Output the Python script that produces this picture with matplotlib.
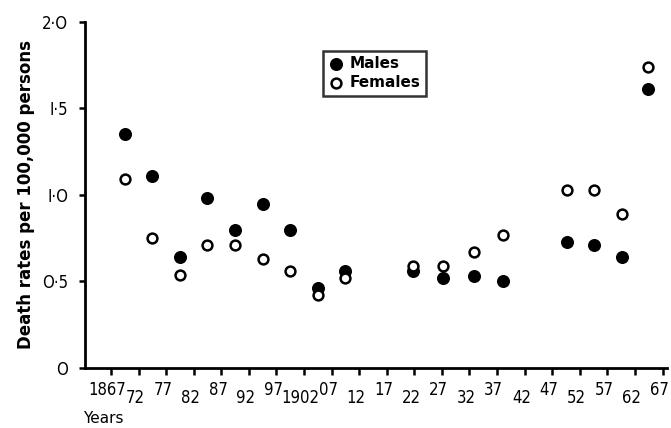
import matplotlib
matplotlib.use("Agg")
import matplotlib.pyplot as plt

# values (mid-points of periods)
years = [1869.5, 1874.5, 1879.5, 1884.5, 1889.5, 1894.5, 1899.5, 1904.5, 1909.5,
         1921.7, 1927.2, 1932.8, 1938.0, 1949.7, 1954.5, 1959.6, 1964.4]
males = [1.35, 1.11, 0.64, 0.98, 0.80, 0.95, 0.80, 0.46, 0.56,
         0.56, 0.52, 0.53, 0.50, 0.73, 0.71, 0.64, 1.61]
females = [1.09, 0.75, 0.54, 0.71, 0.71, 0.63, 0.56, 0.42, 0.52,
           0.59, 0.59, 0.67, 0.77, 1.03, 1.03, 0.89, 1.74]

tick_years = list(range(1867, 1968, 5))
tick_labels = ["1867", "72", "77", "82", "87", "92", "97", "1902", "07", "12", "17",
               "22", "27", "32", "37", "42", "47", "52", "57", "62", "67"]
y_ticks = [0, 0.5, 1.0, 1.5, 2.0]
y_labels = ["O", "O·5", "I·O", "I·5", "2·O"]

fig = plt.figure(figsize=(6.71, 4.28), dpi=100)
ax = fig.add_axes([0.1267, 0.1402, 0.8673, 0.8084])

ax.scatter(years, males, s=70, c="black", edgecolors="black", linewidths=1, label="Males", zorder=3)
ax.scatter(years, females, s=50, facecolors="white", edgecolors="black", linewidths=1.8,
           label="Females", zorder=4)

ax.set_xlim(1862.3, 1967.8)
ax.set_ylim(0, 2.0)

for s in ["top", "right"]:
    ax.spines[s].set_visible(False)
for s in ["left", "bottom"]:
    ax.spines[s].set_linewidth(2)

ax.set_xticks(tick_years)
ax.set_xticklabels([])
ax.tick_params(axis="x", direction="out", length=5, width=1.8)

# staggered year labels
for i, (yr, lab) in enumerate(zip(tick_years, tick_labels)):
    off = -0.065 if i % 2 == 0 else -0.088
    ax.text(yr - 0.6, off, lab, transform=ax.get_xaxis_transform(), ha="center", va="center",
            fontsize=12, fontstretch="condensed", family="DejaVu Sans")

ax.set_yticks(y_ticks)
ax.set_yticklabels(y_labels, fontsize=12, fontstretch="condensed")
ax.tick_params(axis="y", direction="out", length=4, width=1.8, pad=8)

ax.set_ylabel("Death rates per 100,000 persons", fontsize=12, fontweight="bold", labelpad=5)
fig.text(0.124, 0.022, "Years", fontsize=11, ha="left", va="center")

leg = ax.legend(loc="upper left", bbox_to_anchor=(0.409, 0.916), borderaxespad=0, frameon=True,
                fancybox=False, edgecolor="black", handletextpad=0.4, borderpad=0.35,
                labelspacing=0.25, handlelength=1.0, prop={"size": 11, "weight": "bold"})
leg.get_frame().set_linewidth(1.8)

fig.savefig("out.png", dpi=100)
